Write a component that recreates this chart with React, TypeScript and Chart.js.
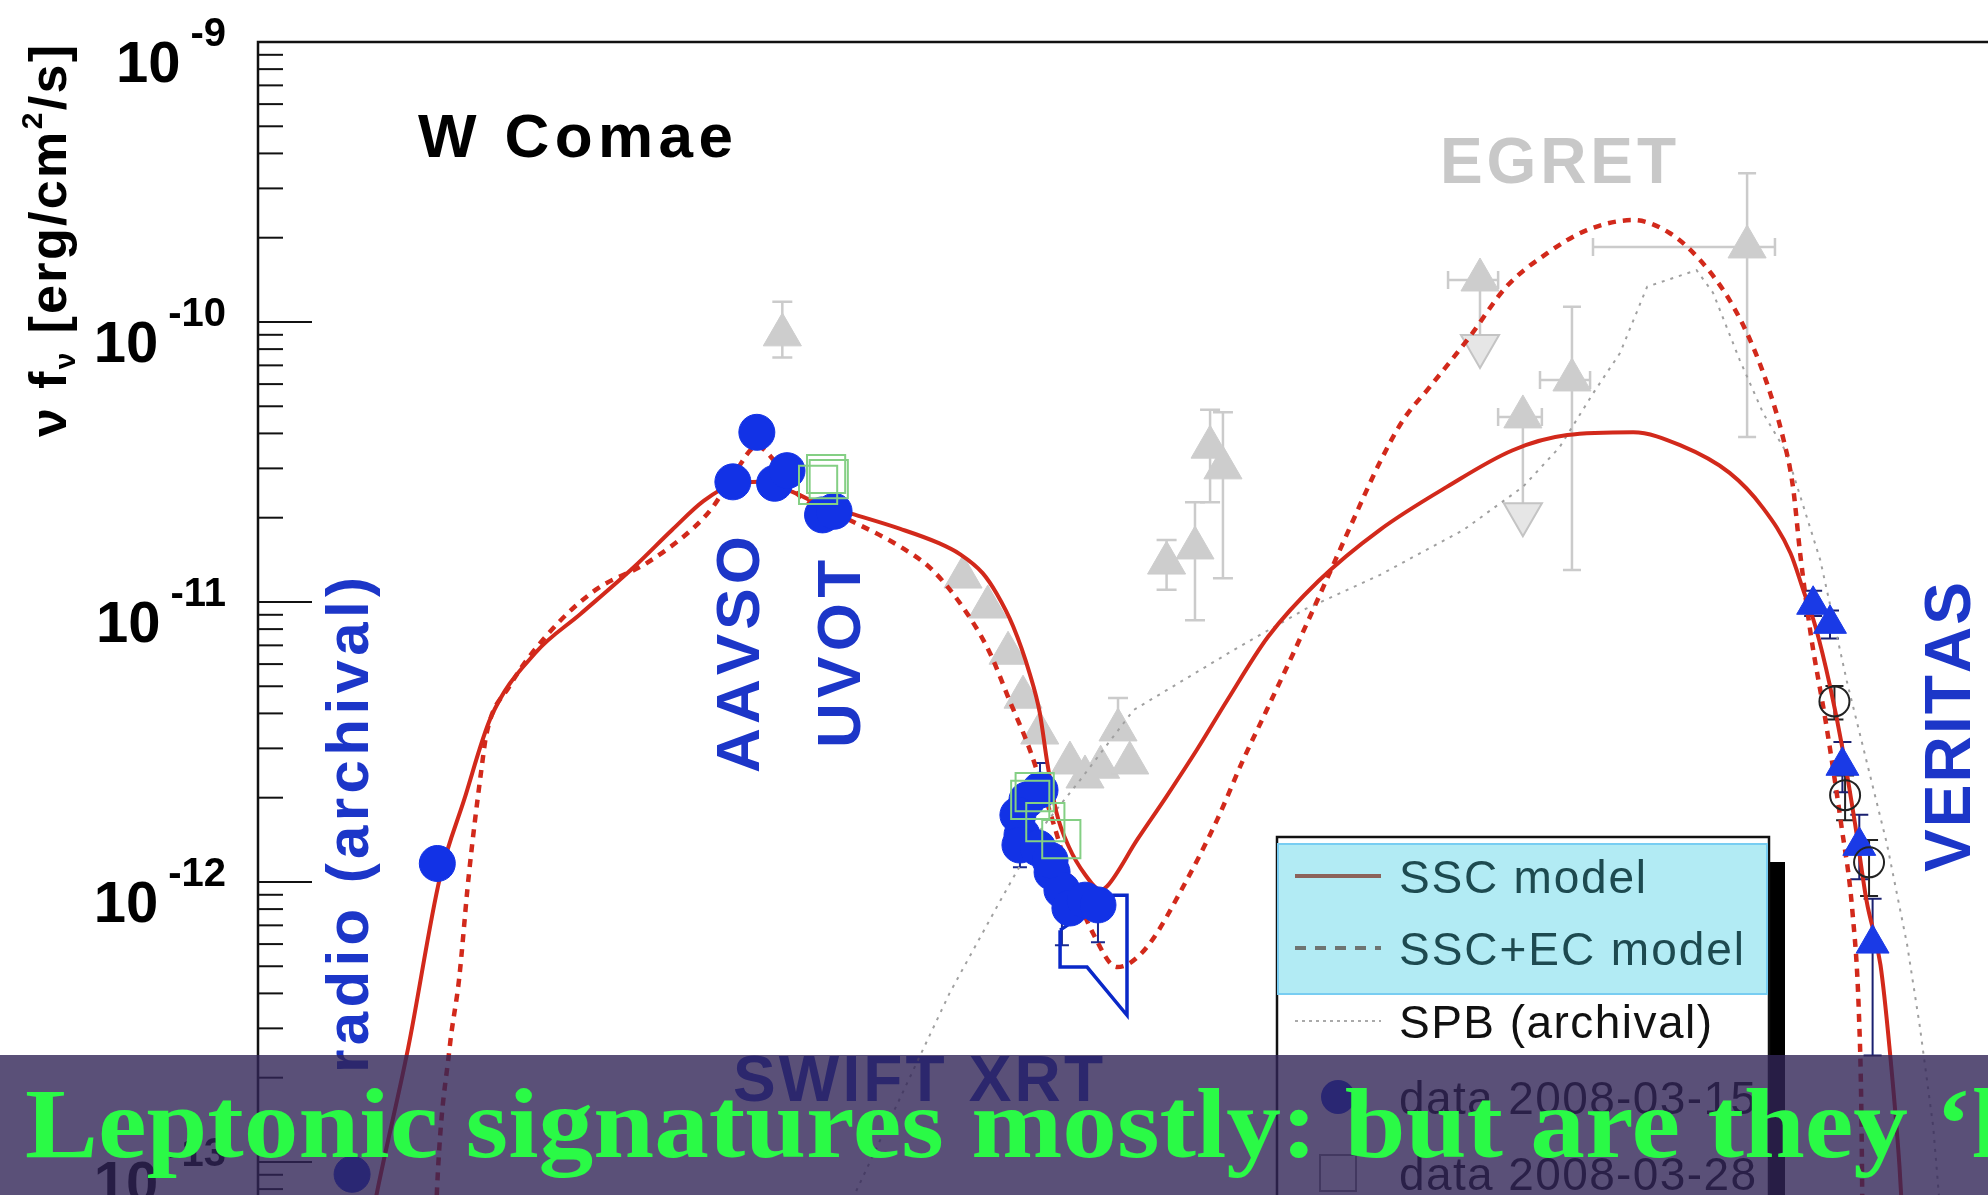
import React, { useEffect, useRef } from "react";
import { Chart, registerables } from "chart.js";
Chart.register(...registerables);

// x values: log10(nu / Hz) ; y values: log10(nu F_nu / erg cm^-2 s^-1)
const sscModelLogNu = [9.207, 9.336, 9.693, 10.05, 10.321, 10.621, 11.121, 11.636, 12.236, 12.664, 13.021, 13.35, 13.664, 14.021, 14.307, 14.636, 15.236, 15.664, 15.907, 16.164, 16.321, 16.507, 16.693, 16.807, 16.893, 16.993, 17.136, 17.321, 17.493, 17.564, 17.907, 18.236, 18.579, 18.921, 19.379, 19.95, 20.636, 21.393, 22.136, 22.75, 23.493, 24.021, 24.579, 24.95, 25.264, 25.407, 25.55, 25.707, 25.85, 25.993, 26.121, 26.279, 26.379, 26.493, 26.55];
const sscModelLogFlux = [-13.334, -13.116, -12.591, -11.984, -11.708, -11.414, -11.183, -11.042, -10.875, -10.743, -10.639, -10.58, -10.571, -10.607, -10.648, -10.68, -10.739, -10.789, -10.829, -10.897, -10.97, -11.087, -11.255, -11.395, -11.577, -11.749, -11.875, -11.975, -12.029, -12.016, -11.848, -11.694, -11.527, -11.35, -11.124, -10.924, -10.743, -10.589, -10.458, -10.404, -10.394, -10.44, -10.539, -10.662, -10.825, -10.956, -11.092, -11.296, -11.522, -11.794, -12.066, -12.297, -12.587, -13.017, -13.334];

const sscEcModelLogNu = [9.993, 10.014, 10.16, 10.264, 10.373, 10.521, 10.576, 10.827, 11.279, 11.807, 12.379, 12.901, 13.121, 13.379, 13.621, 13.836, 14.071, 14.664, 15.233, 15.604, 15.987, 16.247, 16.464, 16.697, 16.921, 17.164, 17.407, 17.677, 17.821, 18.05, 18.421, 18.804, 19.097, 19.364, 19.664, 20.021, 20.307, 20.636, 20.903, 21.204, 21.65, 22.064, 22.521, 22.971, 23.493, 23.907, 24.246, 24.579, 24.844, 25.036, 25.179, 25.293, 25.373, 25.493, 25.664, 25.836, 25.964, 26.036, 26.064, 26.079];
const sscEcModelLogFlux = [-13.334, -13.118, -12.589, -12.351, -11.982, -11.588, -11.468, -11.304, -11.11, -10.956, -10.861, -10.737, -10.662, -10.535, -10.444, -10.503, -10.612, -10.707, -10.802, -10.888, -11.04, -11.183, -11.35, -11.529, -11.749, -11.998, -12.183, -12.304, -12.29, -12.218, -12.018, -11.779, -11.565, -11.386, -11.183, -10.933, -10.73, -10.503, -10.349, -10.231, -10.053, -9.874, -9.755, -9.672, -9.636, -9.683, -9.779, -9.922, -10.089, -10.254, -10.411, -10.589, -10.825, -11.115, -11.432, -11.794, -12.111, -12.473, -12.836, -13.334];

const spbLogNu = [14.379, 14.721, 15.793, 16.364, 16.807, 17.264, 17.864, 18.979, 19.807, 20.636, 21.579, 22.25, 22.664, 23.043, 23.344, 23.65, 24.207, 24.393, 24.693, 24.959, 25.221, 25.6, 25.899, 26.35, 26.579, 26.721, 26.873, 26.993];
const spbLogFlux = [-13.334, -13.116, -12.396, -12.066, -11.817, -11.635, -11.386, -11.174, -11.024, -10.904, -10.743, -10.589, -10.447, -10.254, -10.111, -9.874, -9.815, -9.896, -10.136, -10.327, -10.467, -10.85, -11.282, -11.862, -12.224, -12.514, -12.875, -13.334];

// data 2008-03-15 (radio, AAVSO, UVOT, Swift XRT)
const data0315LogNu = [10.02, 9.06, 13.35, 13.62, 13.82, 13.96, 14.36, 14.49, 16.81, 16.663, 16.561, 16.607, 16.584, 16.787, 16.946, 17.057, 17.147, 17.317, 17.463, 16.923];
const data0315LogFlux = [-11.934, -13.044, -10.571, -10.394, -10.576, -10.531, -10.689, -10.676, -11.672, -11.707, -11.761, -11.832, -11.868, -11.879, -11.965, -12.029, -12.093, -12.065, -12.082, -11.922];
const data0315ErrLo = [null, null, null, null, null, null, null, null, null, null, null, null, -11.947, null, null, -12.226, null, null, -12.215, null];
const data0315ErrHi = [null, null, null, null, null, null, null, null, -11.575, null, null, null, null, null, null, null, null, null, null, null];

// data 2008-03-28 (UVOT, Swift XRT)
const data0328LogNu = [14.4, 14.31, 14.43, 16.75, 16.87, 17.05, 16.7];
const data0328LogFlux = [-10.543, -10.582, -10.561, -11.679, -11.786, -11.847, -11.707];

// Swift XRT butterfly outline
const xrtBowLogNu = [17.036, 17.036, 17.34, 17.79, 17.79, 17.633, 17.036];
const xrtBowLogFlux = [-12.172, -12.304, -12.304, -12.476, -12.047, -12.047, -12.172];

// VERITAS
const veritasLogNu = [25.52, 25.71, 25.85, 26.04, 26.19];
const veritasLogFlux = [-11.01, -11.078, -11.585, -11.871, -12.22];
const veritasErrLo = [-11.05, -11.13, -11.68, -11.99, -12.62];
const veritasErrHi = [-10.96, -11.03, -11.5, -11.76, -12.06];
const veritas2LogNu = [25.76, 25.88, 26.15];
const veritas2LogFlux = [-11.355, -11.69, -11.93];
const veritas2ErrLo = [-11.42, -11.78, -12.05];
const veritas2ErrHi = [-11.3, -11.62, -11.85];

// archival (grey)
const archLogNu = [13.907, 15.943, 16.221, 16.45, 16.619, 16.807, 17.147, 17.317, 17.493, 17.689, 17.821, 18.236, 18.556, 18.726, 18.871];
const archLogFlux = [-10.046, -10.911, -11.018, -11.183, -11.34, -11.468, -11.575, -11.625, -11.59, -11.457, -11.575, -10.861, -10.807, -10.447, -10.521];
const archErrLo = [-10.127, null, null, null, null, null, null, null, null, null, null, -10.956, -11.065, -10.644, -10.915];
const archErrHi = [-9.928, null, null, null, null, null, null, null, null, -11.343, null, -10.779, -10.644, -10.313, -10.322];

// EGRET
const egretLogNu = [21.767, 22.803, 22.25, 24.776];
const egretLogFlux = [-9.85, -10.207, -10.339, -9.732];
const egretErrLo = [-10.086, -10.886, -10.687, -10.411];
const egretErrHi = [-9.85, -9.946, -10.339, -9.469];
const egretNuLo = [21.407, 22.443, 21.971, 23.04];
const egretNuHi = [21.971, 23.007, 22.464, 25.09];
const egretUlLogNu = [21.767, 22.25];
const egretUlLogFlux = [-10.086, -10.687];

// axis
const yDecades = [-9, -10, -11, -12, -13];
const xRange = [8, 27.49];
const yRange = [-13.118, -9];

const legendLabels = ["SSC model", "SSC+EC model", "SPB (archival)", "data 2008-03-15", "data 2008-03-28"];
const overlayText = "Leptonic signatures mostly: but are they \u2018l";
const overlayFitPart = "Leptonic signatures mostly: but are they";

const pts = (xs: number[], ys: number[]) => xs.map((x, i) => ({ x, y: Math.pow(10, ys[i]) }));

const SANS = '"Liberation Sans", Arial, sans-serif';
const BLUE_TXT = "#1c36c8";
const RED = "#d2291b";

function spaced(ctx: CanvasRenderingContext2D, segs: { t: string; f: string; dy?: number }[], x: number, y: number, width: number) {
  const items: { c: string; f: string; dy: number; w: number }[] = [];
  segs.forEach((s) => {
    ctx.font = s.f;
    Array.from(s.t).forEach((c) => items.push({ c, f: s.f, dy: s.dy || 0, w: ctx.measureText(c).width }));
  });
  const nat = items.reduce((a, b) => a + b.w, 0);
  const gap = items.length > 1 ? (width - nat) / (items.length - 1) : 0;
  let cx = x;
  items.forEach((it) => {
    ctx.font = it.f;
    ctx.fillText(it.c, cx, y + it.dy);
    cx += it.w + gap;
  });
}

function rot(ctx: CanvasRenderingContext2D, x: number, y: number, fn: () => void) {
  ctx.save();
  ctx.translate(x, y);
  ctx.rotate(-Math.PI / 2);
  fn();
  ctx.restore();
}

const errorBarPlugin = {
  id: "errorBars",
  beforeDatasetsDraw(chart: any) {
    const { ctx, scales } = chart;
    const xs = scales.x, ys = scales.y;
    ctx.save();
    ctx.beginPath();
    ctx.rect(chart.chartArea.left, chart.chartArea.top, chart.chartArea.right - chart.chartArea.left, chart.chartArea.bottom - chart.chartArea.top);
    ctx.clip();
    chart.data.datasets.forEach((ds: any) => {
      if (!ds.errLo && !ds.nuLo) return;
      ctx.strokeStyle = ds.errColor;
      ctx.lineWidth = ds.errWidth || 2;
      const cap = ds.errCap || 7;
      ds.data.forEach((p: any, i: number) => {
        const px = xs.getPixelForValue(p.x), py = ys.getPixelForValue(p.y);
        if (ds.errLo) {
          const lo = ds.errLo[i], hi = ds.errHi[i];
          if (lo != null || hi != null) {
            const yl = lo != null ? ys.getPixelForValue(Math.pow(10, lo)) : py;
            const yh = hi != null ? ys.getPixelForValue(Math.pow(10, hi)) : py;
            ctx.beginPath();
            ctx.moveTo(px, yl); ctx.lineTo(px, yh);
            if (lo != null) { ctx.moveTo(px - cap, yl); ctx.lineTo(px + cap, yl); }
            if (hi != null) { ctx.moveTo(px - cap, yh); ctx.lineTo(px + cap, yh); }
            ctx.stroke();
          }
        }
        if (ds.nuLo) {
          const xl = xs.getPixelForValue(ds.nuLo[i]), xh = xs.getPixelForValue(ds.nuHi[i]);
          ctx.beginPath();
          ctx.moveTo(xl, py); ctx.lineTo(xh, py);
          ctx.moveTo(xl, py - cap); ctx.lineTo(xl, py + cap);
          ctx.moveTo(xh, py - cap); ctx.lineTo(xh, py + cap);
          ctx.stroke();
        }
      });
    });
    ctx.restore();
  },
};

const labelsPlugin = {
  id: "labels",
  beforeDatasetsDraw(chart: any) {
    const ctx: CanvasRenderingContext2D = chart.ctx;
    ctx.save();
    ctx.textAlign = "left";
    ctx.textBaseline = "alphabetic";
    ctx.fillStyle = "#000";
    spaced(ctx, [{ t: "W Comae", f: `bold 62px ${SANS}` }], 418, 157, 315);
    ctx.fillStyle = "#c8c8c8";
    spaced(ctx, [{ t: "EGRET", f: `bold 64px ${SANS}` }], 1440, 183, 236);
    ctx.fillStyle = BLUE_TXT;
    spaced(ctx, [{ t: "SWIFT XRT", f: `bold 64px ${SANS}` }], 733, 1101, 370);
    rot(ctx, 368, 1073, () => spaced(ctx, [{ t: "radio (archival)", f: `bold 60px ${SANS}` }], 0, 0, 496));
    rot(ctx, 759, 773, () => spaced(ctx, [{ t: "AAVSO", f: `bold 62px ${SANS}` }], 0, 0, 237));
    rot(ctx, 860, 748, () => spaced(ctx, [{ t: "UVOT", f: `bold 62px ${SANS}` }], 0, 0, 188));
    rot(ctx, 1970, 872, () => spaced(ctx, [{ t: "VERITAS", f: `bold 64px ${SANS}` }], 0, 0, 290));
    ctx.restore();
  },
};

const framePlugin = {
  id: "frame",
  afterDraw(chart: any) {
    const ctx: CanvasRenderingContext2D = chart.ctx;
    const { left, top, right, bottom } = chart.chartArea;
    const ys = chart.scales.y;
    ctx.save();
    // frame
    ctx.strokeStyle = "#111";
    ctx.lineWidth = 2.5;
    ctx.beginPath();
    ctx.moveTo(right, top); ctx.lineTo(left, top); ctx.lineTo(left, bottom);
    ctx.stroke();
    // ticks
    ctx.lineWidth = 2;
    const minV = Math.pow(10, yRange[0]), maxV = Math.pow(10, yRange[1]);
    for (let d = -14; d <= -10; d++) {
      for (let m = 1; m <= 9; m++) {
        const v = m * Math.pow(10, d);
        if (v < minV || v > maxV) continue;
        const py = ys.getPixelForValue(v);
        ctx.beginPath();
        ctx.moveTo(left, py);
        ctx.lineTo(left + (m === 1 ? 54 : 25), py);
        ctx.stroke();
      }
    }
    // tick labels
    ctx.fillStyle = "#000";
    ctx.textAlign = "left";
    yDecades.forEach((d) => {
      const py = ys.getPixelForValue(Math.pow(10, d));
      const sup = String(d);
      ctx.font = `bold 40px ${SANS}`;
      const sw = ctx.measureText(sup).width;
      const rightEdge = 226;
      ctx.fillText(sup, rightEdge - sw, py + 4);
      ctx.font = `bold 58px ${SANS}`;
      const tw = ctx.measureText("10").width;
      ctx.fillText("10", rightEdge - sw - 10 - tw, py + 40);
    });
    // y title
    rot(ctx, 66, 437, () =>
      spaced(ctx, [
        { t: "\u03bd f", f: `bold 52px ${SANS}` },
        { t: "\u03bd", f: `bold 30px ${SANS}`, dy: 9 },
        { t: " [erg/cm", f: `bold 52px ${SANS}` },
        { t: "2", f: `bold 30px ${SANS}`, dy: -24 },
        { t: "/s]", f: `bold 52px ${SANS}` },
      ], 0, 0, 392)
    );

    // legend
    const bx = 1277, by = 837, bw = 492;
    ctx.fillStyle = "#000";
    ctx.fillRect(bx + bw, by + 25, 16, 400);
    ctx.fillStyle = "#fff";
    ctx.fillRect(bx, by, bw, 400);
    ctx.strokeStyle = "#111";
    ctx.lineWidth = 2.5;
    ctx.strokeRect(bx, by, bw, 400);
    ctx.fillStyle = "#b2ebf4";
    ctx.fillRect(bx + 1, by + 7, bw - 3, 150);
    ctx.strokeStyle = "#78cdf2";
    ctx.lineWidth = 2;
    ctx.strokeRect(bx + 1, by + 7, bw - 3, 150);
    const rowsY = [876, 948, 1021, 1097, 1173];
    const tx = 1399;
    const widths = [247, 345, 313, 357, 357];
    ctx.lineCap = "butt";
    ctx.strokeStyle = "#8c625a"; ctx.lineWidth = 4; ctx.setLineDash([]);
    ctx.beginPath(); ctx.moveTo(1295, rowsY[0]); ctx.lineTo(1381, rowsY[0]); ctx.stroke();
    ctx.strokeStyle = "#6e7572"; ctx.setLineDash([11, 9]);
    ctx.beginPath(); ctx.moveTo(1295, rowsY[1]); ctx.lineTo(1381, rowsY[1]); ctx.stroke();
    ctx.strokeStyle = "#aaaaaa"; ctx.lineWidth = 2; ctx.setLineDash([3, 4]);
    ctx.beginPath(); ctx.moveTo(1295, rowsY[2]); ctx.lineTo(1381, rowsY[2]); ctx.stroke();
    ctx.setLineDash([]);
    ctx.fillStyle = "#1232e6";
    ctx.beginPath(); ctx.arc(1338, rowsY[3], 17, 0, Math.PI * 2); ctx.fill();
    ctx.strokeStyle = "#888"; ctx.lineWidth = 2;
    ctx.strokeRect(1338 - 18, rowsY[4] - 18, 36, 36);
    legendLabels.forEach((l, i) => {
      ctx.fillStyle = i < 2 ? "#1d4a50" : "#111";
      spaced(ctx, [{ t: l, f: `46px ${SANS}` }], tx, rowsY[i] + 17, widths[i]);
    });

    // slide overlay band
    ctx.fillStyle = "rgba(49,36,86,0.8)";
    ctx.fillRect(0, 1055, 1988, 140);
    ctx.fillStyle = "#2afa46";
    ctx.font = 'bold 100px "Liberation Serif", serif';
    ctx.textAlign = "left";
    const fitW = ctx.measureText(overlayFitPart).width;
    ctx.translate(25, 1157);
    ctx.scale(1883 / fitW, 1);
    ctx.fillText(overlayText, 0, 0);
    ctx.restore();
  },
};

export default function App() {
  const ref = useRef<HTMLCanvasElement>(null);
  useEffect(() => {
    const lineBase = { showLine: true, pointRadius: 0, borderWidth: 4, cubicInterpolationMode: "monotone" as const, fill: false };
    const chart = new Chart(ref.current as HTMLCanvasElement, {
      type: "scatter",
      data: {
        datasets: [
          { label: "data 2008-03-28", data: pts(data0328LogNu, data0328LogFlux), pointStyle: "rect", pointRadius: 27, backgroundColor: "rgba(0,0,0,0)", borderColor: "#84cf84", borderWidth: 2 } as any,
          { label: "data 2008-03-15", data: pts(data0315LogNu, data0315LogFlux), pointStyle: "circle", pointRadius: 18, backgroundColor: "#1232e6", borderColor: "#1232e6", borderWidth: 1, errLo: data0315ErrLo, errHi: data0315ErrHi, errColor: "#1a2a90", errWidth: 2, errCap: 7 } as any,
          { label: "VERITAS 2", data: pts(veritas2LogNu, veritas2LogFlux), pointStyle: "circle", pointRadius: 15, backgroundColor: "rgba(0,0,0,0)", borderColor: "#222", borderWidth: 2, errLo: veritas2ErrLo, errHi: veritas2ErrHi, errColor: "#222", errWidth: 2, errCap: 9 } as any,
          { label: "VERITAS", data: pts(veritasLogNu, veritasLogFlux), pointStyle: "triangle", pointRadius: 19, backgroundColor: "#1a3ae6", borderColor: "#1a3ae6", borderWidth: 1, errLo: veritasErrLo, errHi: veritasErrHi, errColor: "#1a2070", errWidth: 2, errCap: 9 } as any,
          { label: "XRT bowtie", data: pts(xrtBowLogNu, xrtBowLogFlux), showLine: true, pointRadius: 0, borderColor: "#0a28c8", borderWidth: 3.5, tension: 0 } as any,
          { label: "SSC model", data: pts(sscModelLogNu, sscModelLogFlux), ...lineBase, borderColor: RED } as any,
          { label: "SSC+EC model", data: pts(sscEcModelLogNu, sscEcModelLogFlux), ...lineBase, borderColor: RED, borderWidth: 4.5, borderDash: [8, 7] } as any,
          { label: "SPB (archival)", data: pts(spbLogNu, spbLogFlux), showLine: true, pointRadius: 0, borderColor: "#a0a0a0", borderWidth: 2, borderDash: [3, 6], tension: 0 } as any,
          { label: "EGRET UL", data: pts(egretUlLogNu, egretUlLogFlux), pointStyle: "triangle", pointRotation: 180, pointRadius: 22, backgroundColor: "#e6e6e6", borderColor: "#c4c4c4", borderWidth: 2 } as any,
          { label: "EGRET", data: pts(egretLogNu, egretLogFlux), pointStyle: "triangle", pointRadius: 22, backgroundColor: "#cdcdcd", borderColor: "#cdcdcd", borderWidth: 1, errLo: egretErrLo, errHi: egretErrHi, nuLo: egretNuLo, nuHi: egretNuHi, errColor: "#cbcbcb", errWidth: 2.5, errCap: 9 } as any,
          { label: "archival", data: pts(archLogNu, archLogFlux), pointStyle: "triangle", pointRadius: 22, backgroundColor: "#cdcdcd", borderColor: "#cdcdcd", borderWidth: 1, errLo: archErrLo, errHi: archErrHi, errColor: "#cbcbcb", errWidth: 2.5, errCap: 10 } as any,
        ],
      },
      options: {
        responsive: false,
        animation: false,
        events: [],
        layout: { autoPadding: false, padding: { left: 258, top: 42, right: 0, bottom: 0 } },
        scales: {
          x: { type: "linear", display: false, min: xRange[0], max: xRange[1] },
          y: { type: "logarithmic", display: false, min: Math.pow(10, yRange[0]), max: Math.pow(10, yRange[1]) },
        },
        plugins: { legend: { display: false }, tooltip: { enabled: false } },
      },
      plugins: [errorBarPlugin, labelsPlugin, framePlugin],
    });
    return () => chart.destroy();
  }, []);
  return (
    <div style={{ position: "fixed", left: 0, top: 0, width: 1988, height: 1195, overflow: "hidden", background: "#ffffff" }}>
      <canvas ref={ref} width={1988} height={1195} style={{ display: "block", width: 1988, height: 1195 }} />
    </div>
  );
}
